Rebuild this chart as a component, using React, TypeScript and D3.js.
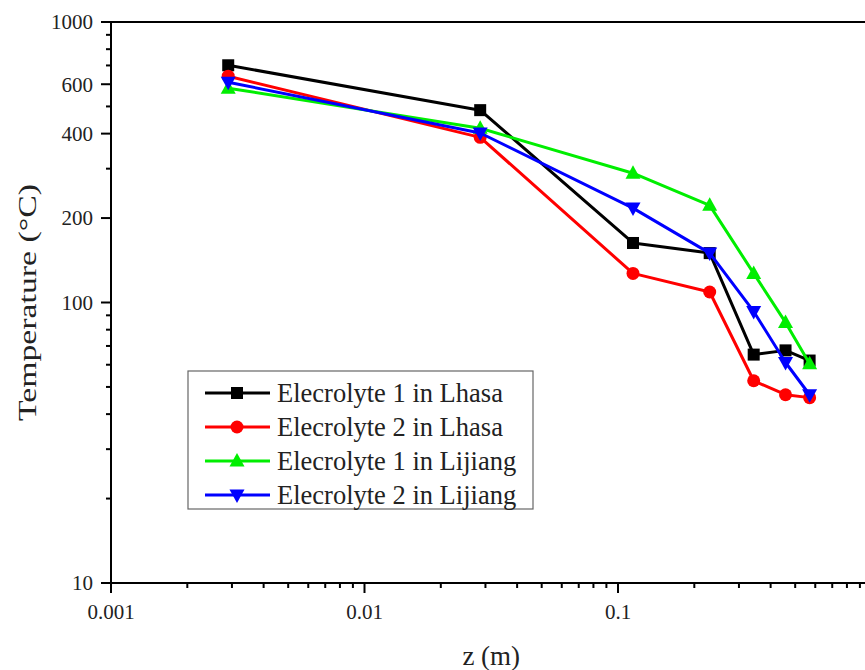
import React from "react";
import * as d3 from "d3";

// Distance from the electrolyte surface (m)
const zValues = [0.0029, 0.0286, 0.1146, 0.23, 0.343, 0.458, 0.57];

// Temperature (°C) for each series
const elec1Lhasa = [701, 485, 163, 150, 65.2, 67.5, 62.1];
const elec2Lhasa = [641, 388, 127, 109, 52.6, 46.9, 45.8];
const elec1Lijiang = [581, 418, 289, 222, 127, 84.9, 60.5];
const elec2Lijiang = [610, 402, 217, 150, 92.9, 61.1, 46.9];

const seriesNames = [
  "Elecrolyte 1 in Lhasa",
  "Elecrolyte 2 in Lhasa",
  "Elecrolyte 1 in Lijiang",
  "Elecrolyte 2 in Lijiang",
];

const yLabelTicks = [10, 100, 200, 400, 600, 1000];
const xLabelTicks = [0.001, 0.01, 0.1];

type Shape = "square" | "circle" | "up" | "down";

const series: { name: string; values: number[]; color: string; shape: Shape }[] = [
  { name: seriesNames[0], values: elec1Lhasa, color: "#000000", shape: "square" },
  { name: seriesNames[1], values: elec2Lhasa, color: "#ff0000", shape: "circle" },
  { name: seriesNames[2], values: elec1Lijiang, color: "#00ee00", shape: "up" },
  { name: seriesNames[3], values: elec2Lijiang, color: "#0000ff", shape: "down" },
];

const W = 865;
const H = 670;
const left = 111;
const top = 22;
const bottom = 583;
const right = 871.5;
const FONT = "Liberation Serif";

function Marker({ x, y, shape, color }: { x: number; y: number; shape: Shape; color: string }) {
  if (shape === "square") {
    return <rect x={x - 6} y={y - 6} width={12} height={12} fill={color} />;
  }
  if (shape === "circle") {
    return <circle cx={x} cy={y} r={6.5} fill={color} />;
  }
  if (shape === "up") {
    return <path d={`M${x},${y - 8}L${x + 7.5},${y + 5.5}L${x - 7.5},${y + 5.5}Z`} fill={color} />;
  }
  return <path d={`M${x},${y + 8}L${x + 7.5},${y - 5.5}L${x - 7.5},${y - 5.5}Z`} fill={color} />;
}

export default function App() {
  const x = d3.scaleLog().domain([0.001, 1]).range([left, right]);
  const y = d3.scaleLog().domain([10, 1000]).range([bottom, top]);

  const line = d3
    .line<number>()
    .x((_, i) => x(zValues[i]))
    .y((d) => y(d));

  const yMinor = y.ticks().filter((t) => !yLabelTicks.some((v) => Math.abs(v - t) < 1e-9));
  const xAll = x.ticks().filter((t) => x(t) <= W + 2);
  const xMinor = xAll.filter((t) => !xLabelTicks.some((v) => Math.abs(v - t) / v < 1e-6));

  const legendX = 188;
  const legendY = 371;
  const rowY = [393, 427, 461, 495];

  return (
    <svg
      width={W}
      height={H}
      style={{ position: "absolute", left: 0, top: 0, background: "#fff", fontFamily: FONT }}
    >
      <rect width={W} height={H} fill="#fff" />

      {/* data lines and markers */}
      {series.map((s) => (
        <g key={s.name}>
          <path d={line(s.values) || ""} fill="none" stroke={s.color} strokeWidth={3} strokeLinejoin="round" />
          {s.values.map((v, i) => (
            <Marker key={i} x={x(zValues[i])} y={y(v)} shape={s.shape} color={s.color} />
          ))}
        </g>
      ))}

      {/* frame: left, bottom and top axis lines */}
      <line x1={left} y1={top} x2={left} y2={bottom} stroke="#000" strokeWidth={2} />
      <line x1={left - 1} y1={bottom} x2={W} y2={bottom} stroke="#000" strokeWidth={2} />
      <line x1={left - 1} y1={top} x2={W} y2={top} stroke="#000" strokeWidth={2} />

      {/* y ticks */}
      {yLabelTicks.map((t) => (
        <g key={`ym${t}`}>
          <line x1={left - 10} x2={left} y1={y(t)} y2={y(t)} stroke="#000" strokeWidth={2} />
          <text x={left - 18} y={y(t)} dy="0.35em" textAnchor="end" fontSize={21} fill="#222" fontFamily={FONT}>
            {t}
          </text>
        </g>
      ))}
      {yMinor.map((t) => (
        <line key={`yn${t}`} x1={left - 5} x2={left} y1={y(t)} y2={y(t)} stroke="#000" strokeWidth={2} />
      ))}

      {/* x ticks */}
      {xLabelTicks.map((t) => (
        <g key={`xm${t}`}>
          <line x1={x(t)} x2={x(t)} y1={bottom} y2={bottom + 10} stroke="#000" strokeWidth={2} />
          <text x={x(t)} y={bottom + 36} textAnchor="middle" fontSize={21} fill="#222" fontFamily={FONT}>
            {String(t)}
          </text>
        </g>
      ))}
      {xMinor.map((t) => (
        <line key={`xn${t}`} x1={x(t)} x2={x(t)} y1={bottom} y2={bottom + 5} stroke="#000" strokeWidth={2} />
      ))}

      {/* axis titles */}
      <text x={(left + right) / 2} y={665} textAnchor="middle" fontSize={27} fill="#222" fontFamily={FONT}>
        z (m)
      </text>
      <text
        transform={`translate(36, ${(top + bottom) / 2}) rotate(-90) scale(1.3, 1)`}
        textAnchor="middle"
        fontSize={26}
        fill="#222"
        fontFamily={FONT}
      >
        Temperature (°C)
      </text>

      {/* legend */}
      <rect x={legendX} y={legendY} width={345} height={138} fill="#fff" stroke="#666" strokeWidth={1.2} />
      {series.map((s, i) => (
        <g key={`lg${i}`}>
          <line x1={205} x2={270} y1={rowY[i]} y2={rowY[i]} stroke={s.color} strokeWidth={3} />
          <Marker x={237} y={rowY[i]} shape={s.shape} color={s.color} />
          <text x={277} y={rowY[i]} dy="0.33em" fontSize={26.5} fill="#222" fontFamily={FONT}>
            {s.name}
          </text>
        </g>
      ))}
    </svg>
  );
}
